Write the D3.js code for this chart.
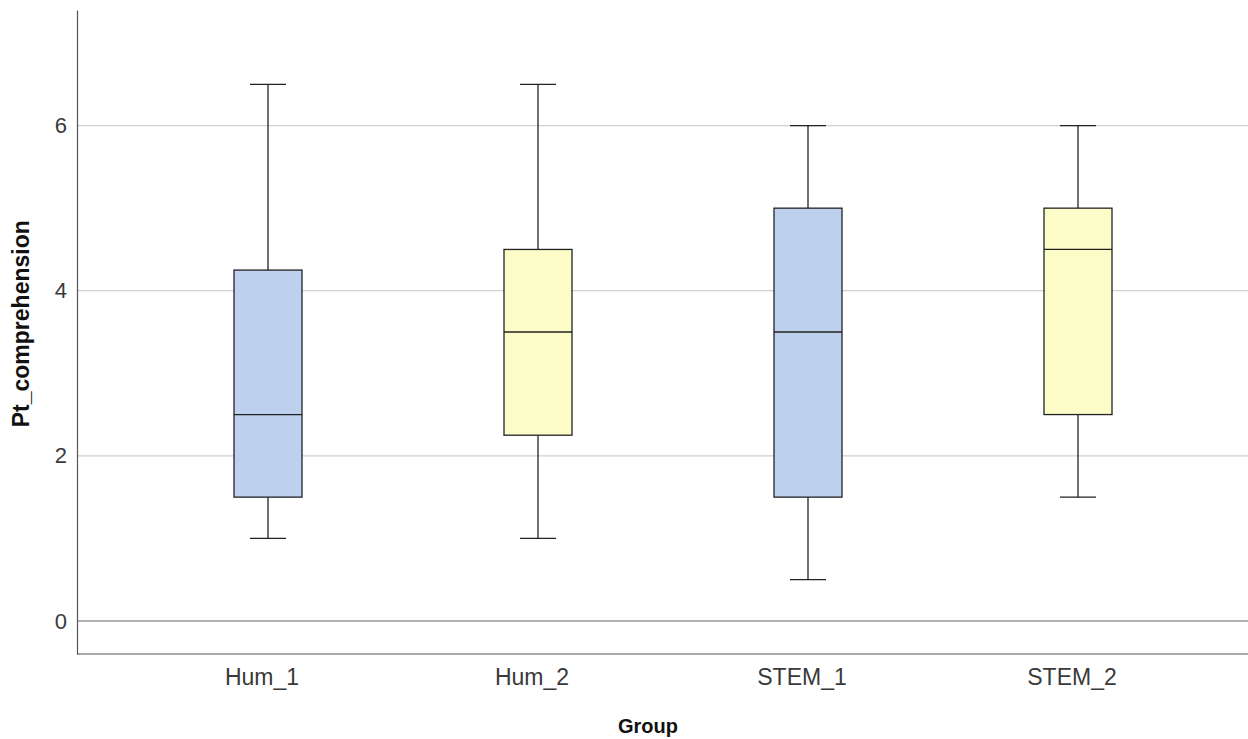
<!DOCTYPE html>
<html>
<head>
<meta charset="utf-8">
<script src="https://cdn.jsdelivr.net/npm/d3@7"></script>
<style>
  body { margin: 0; background: #fff; }
  .tick text { font-family: "Liberation Sans", Arial, sans-serif; font-size: 22px; fill: #3a3a3a; }
  .axis-x .tick text { font-size: 23px; }
  .axis-title { font-family: "Liberation Sans", Arial, sans-serif; font-weight: bold; fill: #111; }
</style>
</head>
<body>
<div id="chart"></div>
<script>
// box plot data
const groups = ['Hum_1', 'Hum_2', 'STEM_1', 'STEM_2'];
const mins    = [1.0, 1.0, 0.5, 1.5];
const q1s     = [1.5, 2.25, 1.5, 2.5];
const medians = [2.5, 3.5, 3.5, 4.5];
const q3s     = [4.25, 4.5, 5.0, 5.0];
const maxs    = [6.5, 6.5, 6.0, 6.0];
const yTicks  = [0, 2, 4, 6];
const boxColors = ['#bdd1ef', '#fbfcc8', '#bdd1ef', '#fbfcc8'];

const config = {
  width: 1248, height: 739,
  margin: { top: 10, right: 0, bottom: 85, left: 77 },
  boxWidth: 68,
  capWidth: 36,
  labelShift: -6   // category labels sit a little left of the boxes
};

const width = config.width - config.margin.left - config.margin.right;
const height = config.height - config.margin.top - config.margin.bottom;

const svg = d3.select('#chart').append('svg')
  .attr('width', config.width)
  .attr('height', config.height);

const g = svg.append('g')
  .attr('transform', `translate(${config.margin.left}, ${config.margin.top})`);

const x = d3.scaleBand().domain(groups).range([56, 56 + 4 * 270]).padding(0);
const y = d3.scaleLinear().domain([-0.4, 7.4]).range([height, 0]);

// gridlines
g.append('g').selectAll('line')
  .data(yTicks)
  .join('line')
  .attr('x1', 0).attr('x2', width)
  .attr('y1', d => y(d)).attr('y2', d => y(d))
  .attr('stroke', d => d === 0 ? '#9a9a9a' : '#cfcfcf')
  .attr('stroke-width', d => d === 0 ? 1.5 : 1.2);

// axes
const yAxis = g.append('g')
  .call(d3.axisLeft(y).tickValues(yTicks).tickSize(0).tickPadding(10));
yAxis.select('.domain').attr('stroke', '#555').attr('stroke-width', 1.2);

const xAxis = g.append('g')
  .attr('class', 'axis-x')
  .attr('transform', `translate(0, ${height})`)
  .call(d3.axisBottom(x).tickSize(0).tickPadding(15));
xAxis.select('.domain').attr('d', `M0,0H${width}`).attr('stroke', '#555').attr('stroke-width', 1.2);
xAxis.selectAll('.tick text').attr('dx', config.labelShift);

// axis titles
svg.append('text')
  .attr('class', 'axis-title')
  .attr('transform', `translate(29, ${config.margin.top + y(3.6)}) rotate(-90)`)
  .attr('text-anchor', 'middle')
  .style('font-size', '23px')
  .text('Pt_comprehension');

svg.append('text')
  .attr('class', 'axis-title')
  .attr('x', 648)
  .attr('y', 733)
  .attr('text-anchor', 'middle')
  .style('font-size', '20px')
  .text('Group');

// boxes
const boxes = g.append('g').selectAll('g')
  .data(groups.map((name, i) => ({
    name, min: mins[i], q1: q1s[i], median: medians[i], q3: q3s[i], max: maxs[i], color: boxColors[i]
  })))
  .join('g')
  .attr('transform', d => `translate(${x(d.name) + x.bandwidth() / 2}, 0)`);

const stroke = '#222';

// whiskers
boxes.append('line')
  .attr('x1', 0).attr('x2', 0)
  .attr('y1', d => y(d.max)).attr('y2', d => y(d.q3))
  .attr('stroke', stroke).attr('stroke-width', 1.3);
boxes.append('line')
  .attr('x1', 0).attr('x2', 0)
  .attr('y1', d => y(d.q1)).attr('y2', d => y(d.min))
  .attr('stroke', stroke).attr('stroke-width', 1.3);
// caps
boxes.append('line')
  .attr('x1', -config.capWidth / 2).attr('x2', config.capWidth / 2)
  .attr('y1', d => y(d.max)).attr('y2', d => y(d.max))
  .attr('stroke', stroke).attr('stroke-width', 1.3);
boxes.append('line')
  .attr('x1', -config.capWidth / 2).attr('x2', config.capWidth / 2)
  .attr('y1', d => y(d.min)).attr('y2', d => y(d.min))
  .attr('stroke', stroke).attr('stroke-width', 1.3);

// box
boxes.append('rect')
  .attr('x', -config.boxWidth / 2)
  .attr('width', config.boxWidth)
  .attr('y', d => y(d.q3))
  .attr('height', d => y(d.q1) - y(d.q3))
  .attr('fill', d => d.color)
  .attr('stroke', stroke).attr('stroke-width', 1.3);

// median
boxes.append('line')
  .attr('x1', -config.boxWidth / 2).attr('x2', config.boxWidth / 2)
  .attr('y1', d => y(d.median)).attr('y2', d => y(d.median))
  .attr('stroke', stroke).attr('stroke-width', 1.3);
</script>
</body>
</html>
